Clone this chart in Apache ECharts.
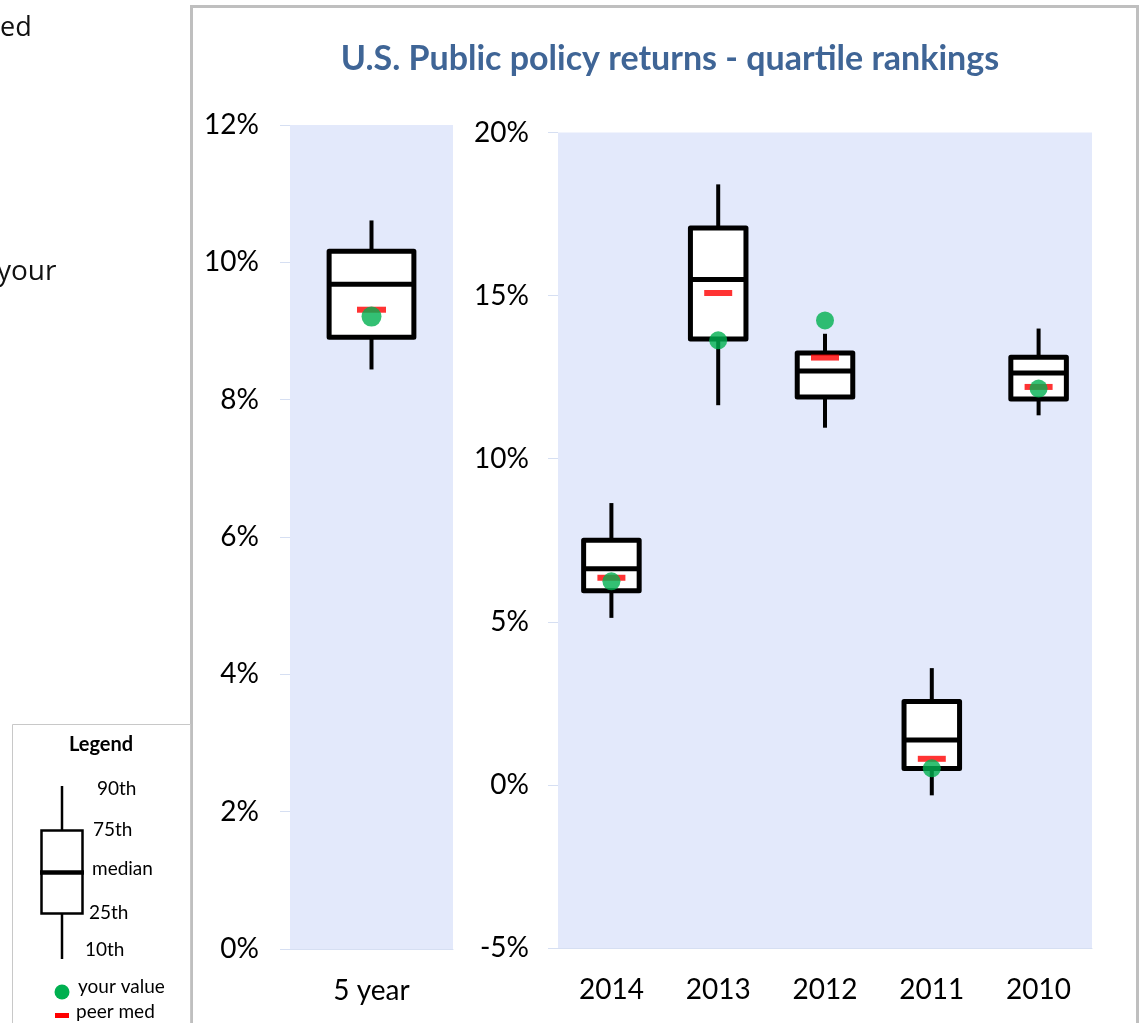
<!DOCTYPE html>
<html>
<head>
    <meta charset="utf-8">
    <title>U.S. Public policy returns - quartile rankings</title>
    <style>
        html, body { margin: 0; padding: 0; background: #fff; }
        #main { width: 1141px; height: 1023px; }
    </style>
</head>
<body>
    <div id="main"></div>
    <script src="https://cdn.jsdelivr.net/npm/echarts@6/dist/echarts.min.js"></script>
    <script>
    // 数据 (百分比)
    var periodCats = ['5 year'];
    var yearCats = ['2014', '2013', '2012', '2011', '2010'];

    // 10th, 25th, median, 75th, 90th
    var periodP10 = [8.44];
    var periodP25 = [8.91];
    var periodMed = [9.68];
    var periodP75 = [10.16];
    var periodP90 = [10.61];
    var periodPeer = [9.31];
    var periodYours = [9.21];

    var yearP10 = [5.12, 11.64, 10.95, -0.32, 11.33];
    var yearP25 = [5.95, 13.67, 11.89, 0.50, 11.83];
    var yearMed = [6.63, 15.49, 12.69, 1.38, 12.63];
    var yearP75 = [7.50, 17.07, 13.24, 2.56, 13.11];
    var yearP90 = [8.64, 18.41, 13.83, 3.58, 13.99];
    var yearPeer = [6.35, 15.08, 13.10, 0.80, 12.20];
    var yearYours = [6.24, 13.63, 14.24, 0.51, 12.15];

    var leftTicks = { min: 0, max: 12, interval: 2 };
    var rightTicks = { min: -5, max: 20, interval: 5 };

    var FONT = 'Lato';

    function boxRows(p10, p25, med, p75, p90) {
        return p10.map(function (v, i) { return [i, v, p25[i], med[i], p75[i], p90[i]]; });
    }
    function pointRows(vals) {
        return vals.map(function (v, i) { return [i, v]; });
    }

    // 箱线图：须线 + 白色方框 + 中位线
    function renderBox(params, api) {
        var i = api.value(0);
        var band = api.size([1, 0])[0];
        var hw = band * 0.26;
        var p10 = api.coord([i, api.value(1)]);
        var p25 = api.coord([i, api.value(2)]);
        var med = api.coord([i, api.value(3)]);
        var p75 = api.coord([i, api.value(4)]);
        var p90 = api.coord([i, api.value(5)]);
        var cx = p10[0];
        var lineStyle = { stroke: '#000', lineWidth: 4 };
        return {
            type: 'group',
            children: [
                { type: 'line', shape: { x1: cx, y1: p90[1], x2: cx, y2: p75[1] }, style: lineStyle },
                { type: 'line', shape: { x1: cx, y1: p25[1], x2: cx, y2: p10[1] }, style: lineStyle },
                {
                    type: 'rect',
                    shape: { x: cx - hw, y: p75[1], width: hw * 2, height: p25[1] - p75[1] },
                    style: { fill: '#fff', stroke: '#000', lineWidth: 5, lineJoin: 'round' }
                },
                { type: 'line', shape: { x1: cx - hw, y1: med[1], x2: cx + hw, y2: med[1] }, style: { stroke: '#000', lineWidth: 5 } }
            ]
        };
    }

    var axisLabelStyle = { color: '#000', fontFamily: FONT, fontSize: 28 };
    var faint = '#d6dff2';

    var myChart = echarts.init(document.getElementById('main'));
    var option = {
        animation: false,
        title: {
            text: 'U.S. Public policy returns - quartile rankings',
            left: 665,
            top: 37,
            textAlign: 'center',
            textStyle: { color: '#3f6596', fontFamily: FONT, fontWeight: 'bold', fontSize: 34 }
        },
        grid: [
            { left: 290, top: 125, width: 163, height: 824, show: true, backgroundColor: '#e3e9fb', borderWidth: 0 },
            { left: 558, top: 132.5, width: 534, height: 815.5, show: true, backgroundColor: '#e3e9fb', borderWidth: 0 }
        ],
        xAxis: [
            {
                type: 'category', gridIndex: 0, data: periodCats,
                axisLine: { onZero: false, lineStyle: { color: faint } },
                axisTick: { length: 10, lineStyle: { color: faint } },
                axisLabel: Object.assign({ margin: 28 }, axisLabelStyle)
            },
            {
                type: 'category', gridIndex: 1, data: yearCats,
                axisLine: { onZero: false, lineStyle: { color: faint } },
                axisTick: { length: 10, lineStyle: { color: faint } },
                axisLabel: Object.assign({ margin: 28 }, axisLabelStyle)
            }
        ],
        yAxis: [
            {
                type: 'value', gridIndex: 0,
                min: leftTicks.min, max: leftTicks.max, interval: leftTicks.interval,
                axisLine: { show: false },
                axisTick: { show: true, length: 10, lineStyle: { color: faint } },
                splitLine: { show: false },
                axisLabel: Object.assign({ margin: 31, formatter: '{value}%' }, axisLabelStyle)
            },
            {
                type: 'value', gridIndex: 1,
                min: rightTicks.min, max: rightTicks.max, interval: rightTicks.interval,
                axisLine: { show: false },
                axisTick: { show: true, length: 10, lineStyle: { color: faint } },
                splitLine: { show: false },
                axisLabel: Object.assign({ margin: 29, formatter: '{value}%' }, axisLabelStyle)
            }
        ],
        series: [
            {
                name: 'range 5y', type: 'custom', xAxisIndex: 0, yAxisIndex: 0,
                renderItem: renderBox,
                data: boxRows(periodP10, periodP25, periodMed, periodP75, periodP90), z: 2
            },
            {
                name: 'range yearly', type: 'custom', xAxisIndex: 1, yAxisIndex: 1,
                renderItem: renderBox,
                data: boxRows(yearP10, yearP25, yearMed, yearP75, yearP90), z: 2
            },
            {
                name: 'peer med', type: 'scatter', xAxisIndex: 0, yAxisIndex: 0,
                symbol: 'rect', symbolSize: [29, 6], itemStyle: { color: '#ff0000' },
                data: pointRows(periodPeer), z: 3
            },
            {
                name: 'peer med', type: 'scatter', xAxisIndex: 1, yAxisIndex: 1,
                symbol: 'rect', symbolSize: [28, 6], itemStyle: { color: '#ff0000' },
                data: pointRows(yearPeer), z: 3
            },
            {
                name: 'your value', type: 'scatter', xAxisIndex: 0, yAxisIndex: 0,
                symbol: 'circle', symbolSize: 20, itemStyle: { color: '#00b050' },
                data: pointRows(periodYours), z: 4
            },
            {
                name: 'your value', type: 'scatter', xAxisIndex: 1, yAxisIndex: 1,
                symbol: 'circle', symbolSize: 18, itemStyle: { color: '#00b050' },
                data: pointRows(yearYours), z: 4
            }
        ],
        graphic: [
            // 左侧被截断的文字
            { type: 'text', left: 0, top: 15, style: { text: 'ed', fill: '#111', font: '27px "Open Sans"' } },
            { type: 'text', left: -3, top: 258, style: { text: 'your', fill: '#111', font: '28px "Open Sans"' } },
            // 图表外框
            { type: 'rect', shape: { x: 191.5, y: 6.5, width: 946, height: 1040 }, style: { fill: 'none', stroke: '#bfbfbf', lineWidth: 3 }, z: -1 },
            // 图例框
            { type: 'rect', shape: { x: 12.5, y: 724.5, width: 178, height: 310 }, style: { fill: '#fff', stroke: '#c8c8c8', lineWidth: 1 }, z: -1 },
            { type: 'text', x: 101, y: 745, style: { text: 'Legend', fill: '#000', font: 'bold 20px Lato', align: 'center', verticalAlign: 'middle' } },
            { type: 'line', shape: { x1: 62, y1: 786, x2: 62, y2: 830 }, style: { stroke: '#000', lineWidth: 2.5 } },
            { type: 'line', shape: { x1: 62, y1: 913, x2: 62, y2: 959 }, style: { stroke: '#000', lineWidth: 2.5 } },
            { type: 'rect', shape: { x: 41.5, y: 830.5, width: 41, height: 83 }, style: { fill: '#fff', stroke: '#000', lineWidth: 2.5 } },
            { type: 'line', shape: { x1: 40, y1: 872.5, x2: 84, y2: 872.5 }, style: { stroke: '#000', lineWidth: 4.5 } },
            { type: 'text', x: 97, y: 789, style: { text: '90th', fill: '#000', font: '19px Lato', verticalAlign: 'middle' } },
            { type: 'text', x: 93, y: 830, style: { text: '75th', fill: '#000', font: '19px Lato', verticalAlign: 'middle' } },
            { type: 'text', x: 92, y: 869, style: { text: 'median', fill: '#000', font: '19px Lato', verticalAlign: 'middle' } },
            { type: 'text', x: 89, y: 913, style: { text: '25th', fill: '#000', font: '19px Lato', verticalAlign: 'middle' } },
            { type: 'text', x: 85, y: 950, style: { text: '10th', fill: '#000', font: '19px Lato', verticalAlign: 'middle' } },
            { type: 'circle', shape: { cx: 62, cy: 992, r: 7.5 }, style: { fill: '#00b050' } },
            { type: 'text', x: 78, y: 987, style: { text: 'your value', fill: '#000', font: '19px Lato', verticalAlign: 'middle' } },
            { type: 'rect', shape: { x: 55, y: 1013, width: 14, height: 5 }, style: { fill: '#ff0000' } },
            { type: 'text', x: 76, y: 1012, style: { text: 'peer med', fill: '#000', font: '19px Lato', verticalAlign: 'middle' } }
        ]
    };

    myChart.setOption(option);
    </script>
</body>
</html>
